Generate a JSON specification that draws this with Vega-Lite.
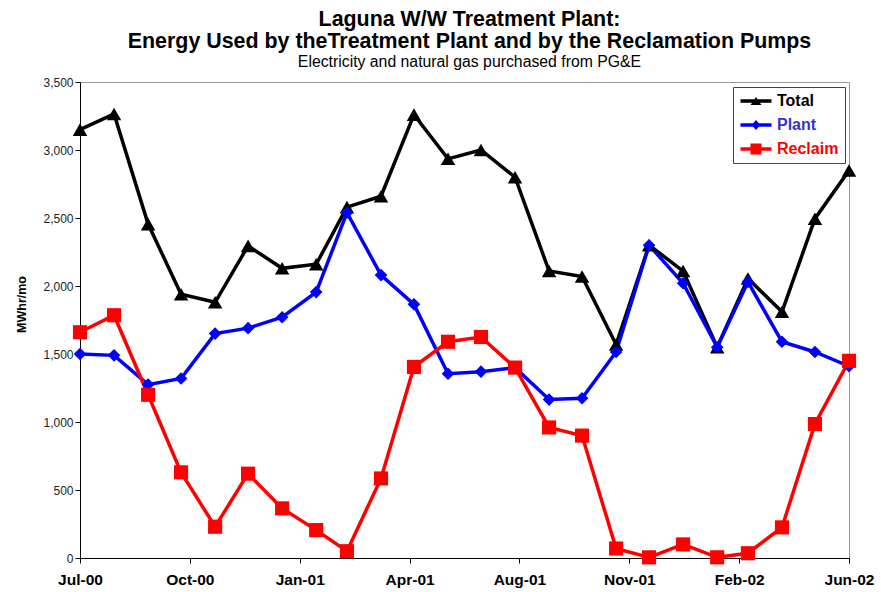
{
  "$schema": "https://vega.github.io/schema/vega-lite/v6.json",
  "width": 769,
  "height": 476,
  "autosize": "none",
  "padding": {"left": 80, "top": 82, "right": 32, "bottom": 34},
  "background": "white",
  "title": {
    "text": ["Laguna W/W Treatment Plant:", "Energy Used by theTreatment Plant and by the Reclamation Pumps"],
    "subtitle": "Electricity and natural gas purchased from PG&E",
    "anchor": "middle",
    "frame": "group",
    "dx": 5,
    "font": "Liberation Sans",
    "fontSize": 21.4,
    "fontWeight": "bold",
    "lineHeight": 22,
    "color": "black",
    "subtitleFont": "Liberation Sans",
    "subtitleFontSize": 15.8,
    "subtitleColor": "black",
    "subtitlePadding": 3,
    "offset": 6
  },
  "config": {
    "view": {"stroke": "#999999", "strokeWidth": 1},
    "axis": {
      "domainColor": "black",
      "tickColor": "black",
      "labelFont": "Liberation Sans",
      "titleFont": "Liberation Sans",
      "grid": false
    }
  },
  "data": {
    "values": [
      {"month": "2000-07-01", "series": "Total", "value": 3150},
      {"month": "2000-08-01", "series": "Total", "value": 3265},
      {"month": "2000-09-01", "series": "Total", "value": 2455},
      {"month": "2000-10-01", "series": "Total", "value": 1940},
      {"month": "2000-11-01", "series": "Total", "value": 1880},
      {"month": "2000-12-01", "series": "Total", "value": 2295},
      {"month": "2001-01-01", "series": "Total", "value": 2130},
      {"month": "2001-02-01", "series": "Total", "value": 2160},
      {"month": "2001-03-01", "series": "Total", "value": 2580},
      {"month": "2001-04-01", "series": "Total", "value": 2660},
      {"month": "2001-05-01", "series": "Total", "value": 3260},
      {"month": "2001-06-01", "series": "Total", "value": 2935},
      {"month": "2001-07-01", "series": "Total", "value": 3000},
      {"month": "2001-08-01", "series": "Total", "value": 2800},
      {"month": "2001-09-01", "series": "Total", "value": 2110},
      {"month": "2001-10-01", "series": "Total", "value": 2070},
      {"month": "2001-11-01", "series": "Total", "value": 1570},
      {"month": "2001-12-01", "series": "Total", "value": 2300},
      {"month": "2002-01-01", "series": "Total", "value": 2110},
      {"month": "2002-02-01", "series": "Total", "value": 1550},
      {"month": "2002-03-01", "series": "Total", "value": 2055},
      {"month": "2002-04-01", "series": "Total", "value": 1810},
      {"month": "2002-05-01", "series": "Total", "value": 2495},
      {"month": "2002-06-01", "series": "Total", "value": 2850},
      {"month": "2000-07-01", "series": "Plant", "value": 1500},
      {"month": "2000-08-01", "series": "Plant", "value": 1490},
      {"month": "2000-09-01", "series": "Plant", "value": 1275},
      {"month": "2000-10-01", "series": "Plant", "value": 1320},
      {"month": "2000-11-01", "series": "Plant", "value": 1650},
      {"month": "2000-12-01", "series": "Plant", "value": 1690},
      {"month": "2001-01-01", "series": "Plant", "value": 1770},
      {"month": "2001-02-01", "series": "Plant", "value": 1955},
      {"month": "2001-03-01", "series": "Plant", "value": 2540},
      {"month": "2001-04-01", "series": "Plant", "value": 2080},
      {"month": "2001-05-01", "series": "Plant", "value": 1865},
      {"month": "2001-06-01", "series": "Plant", "value": 1355},
      {"month": "2001-07-01", "series": "Plant", "value": 1370},
      {"month": "2001-08-01", "series": "Plant", "value": 1400},
      {"month": "2001-09-01", "series": "Plant", "value": 1165},
      {"month": "2001-10-01", "series": "Plant", "value": 1175},
      {"month": "2001-11-01", "series": "Plant", "value": 1515},
      {"month": "2001-12-01", "series": "Plant", "value": 2300},
      {"month": "2002-01-01", "series": "Plant", "value": 2020},
      {"month": "2002-02-01", "series": "Plant", "value": 1550},
      {"month": "2002-03-01", "series": "Plant", "value": 2030},
      {"month": "2002-04-01", "series": "Plant", "value": 1590},
      {"month": "2002-05-01", "series": "Plant", "value": 1515},
      {"month": "2002-06-01", "series": "Plant", "value": 1410},
      {"month": "2000-07-01", "series": "Reclaim", "value": 1660},
      {"month": "2000-08-01", "series": "Reclaim", "value": 1785},
      {"month": "2000-09-01", "series": "Reclaim", "value": 1200},
      {"month": "2000-10-01", "series": "Reclaim", "value": 630},
      {"month": "2000-11-01", "series": "Reclaim", "value": 230},
      {"month": "2000-12-01", "series": "Reclaim", "value": 620},
      {"month": "2001-01-01", "series": "Reclaim", "value": 365},
      {"month": "2001-02-01", "series": "Reclaim", "value": 205},
      {"month": "2001-03-01", "series": "Reclaim", "value": 50},
      {"month": "2001-04-01", "series": "Reclaim", "value": 585},
      {"month": "2001-05-01", "series": "Reclaim", "value": 1405},
      {"month": "2001-06-01", "series": "Reclaim", "value": 1590},
      {"month": "2001-07-01", "series": "Reclaim", "value": 1625},
      {"month": "2001-08-01", "series": "Reclaim", "value": 1400},
      {"month": "2001-09-01", "series": "Reclaim", "value": 960},
      {"month": "2001-10-01", "series": "Reclaim", "value": 900},
      {"month": "2001-11-01", "series": "Reclaim", "value": 70},
      {"month": "2001-12-01", "series": "Reclaim", "value": 5},
      {"month": "2002-01-01", "series": "Reclaim", "value": 100},
      {"month": "2002-02-01", "series": "Reclaim", "value": 5},
      {"month": "2002-03-01", "series": "Reclaim", "value": 35},
      {"month": "2002-04-01", "series": "Reclaim", "value": 225},
      {"month": "2002-05-01", "series": "Reclaim", "value": 985},
      {"month": "2002-06-01", "series": "Reclaim", "value": 1450}
    ]
  },
  "encoding": {
    "x": {
      "field": "month",
      "type": "temporal",
      "scale": {
        "type": "utc",
        "domain": [
          {"year": 2000, "month": 7, "date": 1, "utc": true},
          {"year": 2002, "month": 6, "date": 1, "utc": true}
        ]
      },
      "axis": {
        "title": null,
        "values": [
          {"year": 2000, "month": 7, "date": 1, "utc": true},
          {"year": 2000, "month": 10, "date": 9, "utc": true},
          {"year": 2001, "month": 1, "date": 17, "utc": true},
          {"year": 2001, "month": 4, "date": 27, "utc": true},
          {"year": 2001, "month": 8, "date": 5, "utc": true},
          {"year": 2001, "month": 11, "date": 13, "utc": true},
          {"year": 2002, "month": 2, "date": 21, "utc": true},
          {"year": 2002, "month": 6, "date": 1, "utc": true}
        ],
        "format": "%b-%y",
        "labelFontSize": 15.5,
        "labelFontWeight": "bold",
        "labelColor": "black",
        "labelPadding": 9,
        "tickSize": 5,
        "labelFlush": false,
        "labelOverlap": false
      }
    },
    "y": {
      "field": "value",
      "type": "quantitative",
      "scale": {"domain": [0, 3500], "nice": false},
      "axis": {
        "title": "MWhr/mo",
        "titleFontSize": 12.5,
        "titleFontWeight": "bold",
        "titleColor": "black",
        "titlePadding": 14,
        "titleY": 222,
        "values": [0, 500, 1000, 1500, 2000, 2500, 3000, 3500],
        "format": ",.0f",
        "labelFontSize": 12,
        "labelColor": "#222222",
        "labelPadding": 2,
        "tickSize": 5
      }
    }
  },
  "layer": [
    {
      "mark": {"type": "line", "strokeWidth": 3.5},
      "encoding": {
        "color": {
          "field": "series",
          "type": "nominal",
          "scale": {"domain": ["Total", "Plant", "Reclaim"], "range": ["#000000", "#0000ff", "#ff0000"]},
          "legend": {
            "title": null,
            "orient": "none",
            "legendX": 653,
            "legendY": 5,
            "padding": 6,
            "strokeColor": "#444444",
            "fillColor": "white",
            "symbolSize": 100,
            "symbolOffset": 9,
            "labelOffset": 13,
            "rowPadding": 8,
            "labelFont": "Liberation Sans",
            "labelFontSize": 16,
            "labelFontWeight": "bold",
            "encode": {
              "symbols": {
                "update": {
                  "shape": {"signal": "datum.value === 'Total' ? 'M-3.1,-0.33H3.1V0.33H-3.1Z M-1.1,0.8L0,-0.8L1.1,0.8Z' : datum.value === 'Plant' ? 'M-3.1,-0.33H3.1V0.33H-3.1Z M0,-1L0.9,0L0,1L-0.9,0Z' : 'M-3.1,-0.33H3.1V0.33H-3.1Z M-1.1,-1.1H1.1V1.1H-1.1Z'"},
                  "fill": {"signal": "datum.value === 'Total' ? '#000000' : datum.value === 'Plant' ? '#0000ff' : '#ff0000'"},
                  "stroke": {"value": "transparent"},
                  "strokeWidth": {"value": 0},
                  "opacity": {"value": 1}
                }
              },
              "labels": {
                "update": {
                  "fill": {"signal": "datum.value === 'Total' ? '#000000' : datum.value === 'Plant' ? '#3333cc' : '#ff0000'"}
                }
              }
            }
          }
        }
      }
    },
    {
      "transform": [{"filter": "datum.series === 'Total'"}],
      "mark": {"type": "point", "filled": true, "opacity": 1, "shape": "triangle-up", "size": 210, "color": "#000000"}
    },
    {
      "transform": [{"filter": "datum.series === 'Plant'"}],
      "mark": {"type": "point", "filled": true, "opacity": 1, "shape": "diamond", "size": 160, "color": "#0000ff"}
    },
    {
      "transform": [{"filter": "datum.series === 'Reclaim'"}],
      "mark": {"type": "point", "filled": true, "opacity": 1, "shape": "square", "size": 200, "color": "#ff0000"}
    }
  ]
}
